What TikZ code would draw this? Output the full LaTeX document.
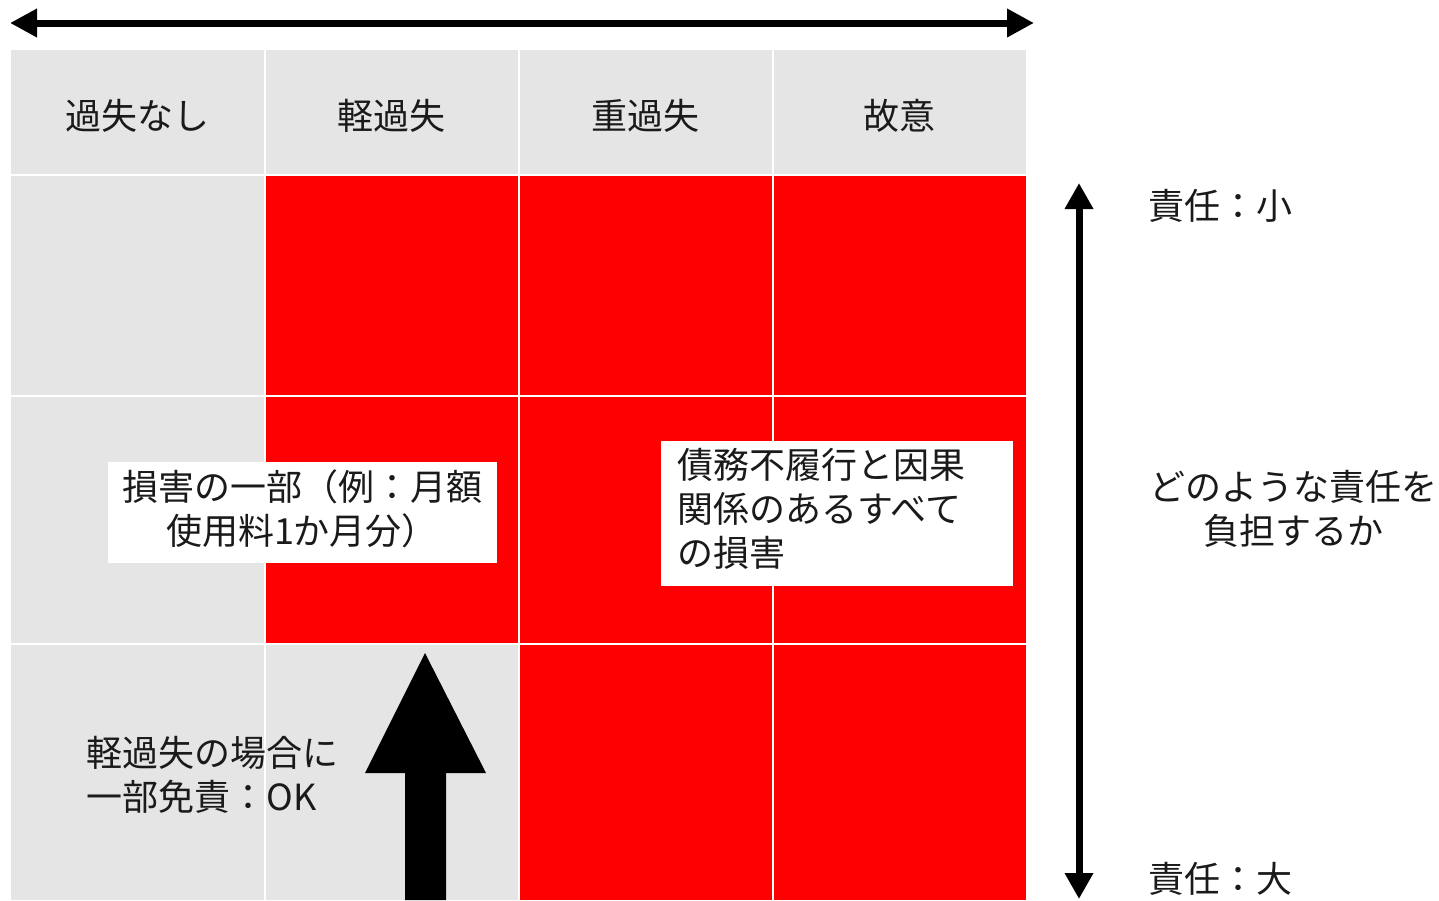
\documentclass[tikz,border=0pt]{standalone}
\usepackage{fontspec}
\setmainfont{Noto Sans CJK JP}
\usetikzlibrary{arrows.meta}
\definecolor{cellgray}{HTML}{E5E5E5}
\definecolor{cellred}{HTML}{FF0000}
\definecolor{txt}{HTML}{1A1A1A}
\tikzset{
  graycell/.style={fill=cellgray,draw=none},
  redcell/.style={fill=cellred,draw=none},
  gridline/.style={draw=white,line width=0.6pt},
  lbl/.style={font=\fontsize{18}{22}\selectfont,text=txt,inner sep=0pt},
  whitebox/.style={fill=white,draw=none,inner sep=0pt},
  thickarrow/.style={line width=3.5pt,{Triangle[length=13.5pt,width=13.5pt]}-{Triangle[length=13.5pt,width=13.5pt]}},
  thinarrow/.style={line width=3.5pt,{Triangle[length=13pt,width=13.5pt]}-{Triangle[length=13pt,width=13.5pt]}}
}
\begin{document}
\begin{tikzpicture}[x=0.5pt,y=-0.5pt]
\useasboundingbox (0,0) rectangle (1439,900);
% cells
\fill[graycell] (11,50) rectangle (1026,175);
\fill[graycell] (11,175) rectangle (265,900);
\fill[graycell] (265,644) rectangle (519,900);
\fill[redcell] (265,175) rectangle (1026,644);
\fill[redcell] (519,644) rectangle (1026,900);
% grid lines
\foreach \gx in {265,519,773} \draw[gridline] (\gx,50) -- (\gx,900);
\foreach \gy in {175,396,644} \draw[gridline] (11,\gy) -- (1026,\gy);
% header labels
\node[lbl] (h1) at (137,116) {過失なし};
\node[lbl] (h2) at (391,116) {軽過失};
\node[lbl] (h3) at (645,116) {重過失};
\node[lbl] (h4) at (899,116) {故意};
% top arrow
\coordinate (hl) at (10,23);
\coordinate (hr) at (1034,23);
\draw[thickarrow] (hl) -- (hr);
% vertical arrow
\coordinate (vt) at (1079,183);
\coordinate (vb) at (1079,899);
\draw[thinarrow] (vt) -- (vb);
% white boxes
\node[whitebox,minimum width=194.5pt,minimum height=50.5pt] (box1) at (302.5,512.5) {};
\node[lbl,align=center] (t1) at (302,509) {損害の一部（例：月額\\使用料1か月分）};
\node[whitebox,minimum width=176pt,minimum height=72.5pt] (box2) at (837,513.5) {};
\node[lbl,align=left,anchor=west] (t2) at (677,509) {債務不履行と因果\\関係のあるすべて\\の損害};
% block arrow
\fill[black] (425,653) -- (365,773) -- (405,773) -- (405,900) -- (446,900) -- (446,773) -- (486,773) -- cycle;
\node[lbl,align=left,anchor=west] (t3) at (86,775) {軽過失の場合に\\一部免責：OK};
% right labels
\node[lbl,anchor=west] (small) at (1148,206) {責任：小};
\node[lbl,anchor=west] (large) at (1148,879) {責任：大};
\node[lbl,align=center] (q) at (1293,509) {どのような責任を\\負担するか};
\end{tikzpicture}
\end{document}
